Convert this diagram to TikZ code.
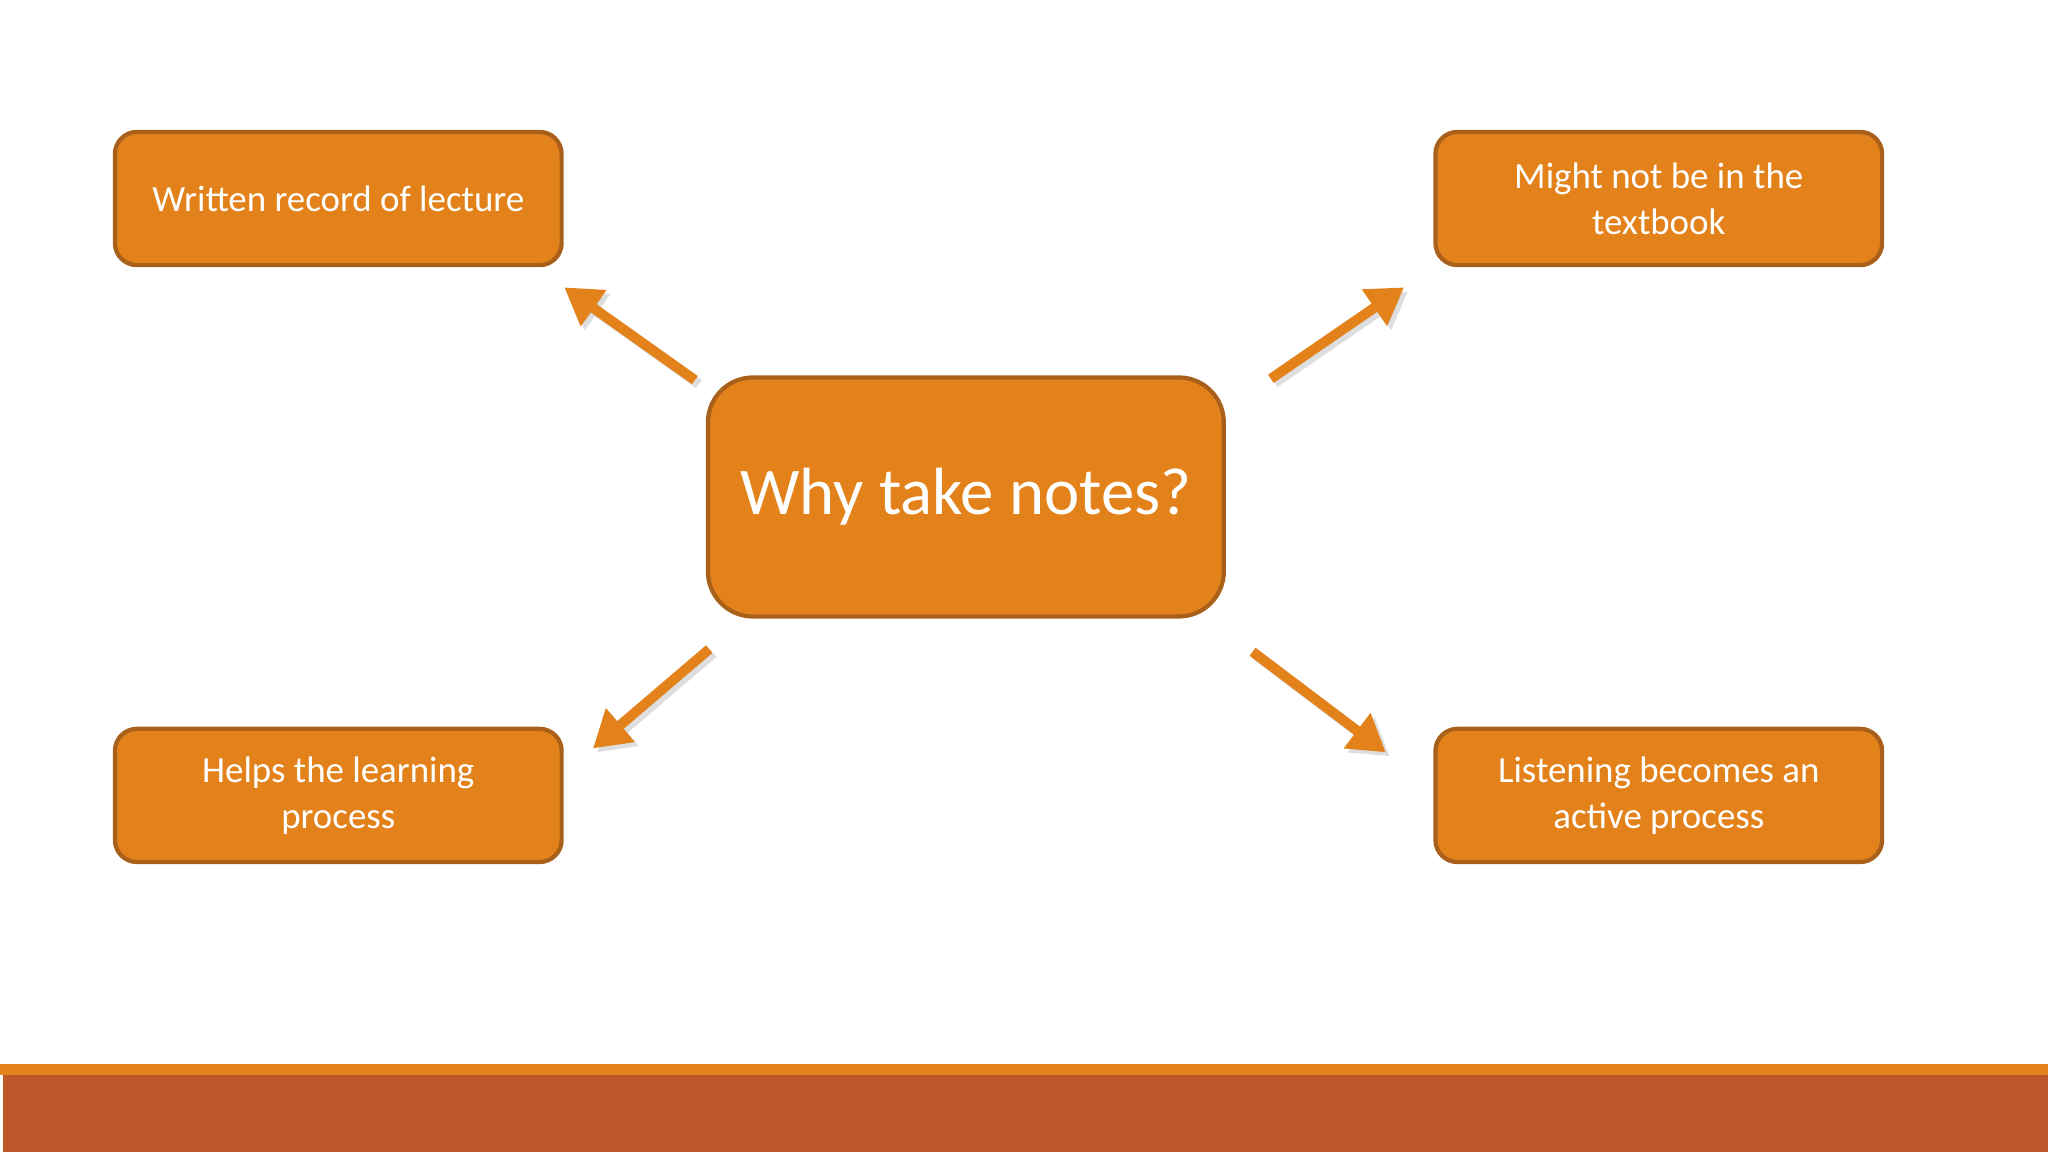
\documentclass[tikz,border=0pt]{standalone}
\usepackage{fontspec}
\setmainfont{Carlito}
\usetikzlibrary{arrows.meta}
\definecolor{boxfill}{HTML}{E3821A}
\definecolor{boxline}{HTML}{A9601A}
\definecolor{band}{HTML}{BE582B}
\definecolor{bandtop}{HTML}{E3831A}
\begin{document}
\begin{tikzpicture}[x=0.013061cm,y=-0.013061cm,
  box/.style={draw=boxline,fill=boxfill,line width=1.2pt,rounded corners=0.22cm,text=white,align=center,font=\fontsize{10.5pt}{13pt}\selectfont,inner sep=0pt},
  bigbox/.style={box,rounded corners=0.45cm,font=\fontsize{19pt}{23pt}\selectfont},
  arr/.style={draw=boxfill,line width=0.1cm,-{Triangle[length=0.36cm,width=0.42cm]}}]
\useasboundingbox (0,0) rectangle (1568,882);
\fill[white] (0,0) rectangle (1568,882);
\node[box,minimum width=342*0.013061cm,minimum height=102*0.013061cm] (tl) at (259,152) {Written record of lecture};
\node[box,minimum width=342*0.013061cm,minimum height=102*0.013061cm] (tr) at (1270,152) {Might not be in the\\textbook};
\node[box,minimum width=342*0.013061cm,minimum height=102*0.013061cm] (bl) at (259,609) {Helps the learning\\process};
\node[box,minimum width=342*0.013061cm,minimum height=102*0.013061cm] (br) at (1270,609) {Listening becomes an\\active process};
\node[bigbox,minimum width=395*0.013061cm,minimum height=183*0.013061cm] (c) at (739.5,380.5) {Why take notes?};
\coordinate (a1s) at (532,291); \coordinate (a1e) at (432,220);
\coordinate (a2s) at (973,290); \coordinate (a2e) at (1075,220);
\coordinate (a3s) at (543,497); \coordinate (a3e) at (454,573);
\coordinate (a4s) at (959,499); \coordinate (a4e) at (1061,576);
\foreach \s/\e in {a1s/a1e,a2s/a2e,a3s/a3e,a4s/a4e}{
  \draw[arr,draw=black!25,opacity=0.5,transform canvas={shift={(0.04cm,-0.04cm)}}] (\s) -- (\e);
  \draw[arr] (\s) -- (\e);}
\fill[bandtop] (0,815) rectangle (1568,823);
\fill[band] (2,823) rectangle (1568,882);
\end{tikzpicture}
\end{document}
